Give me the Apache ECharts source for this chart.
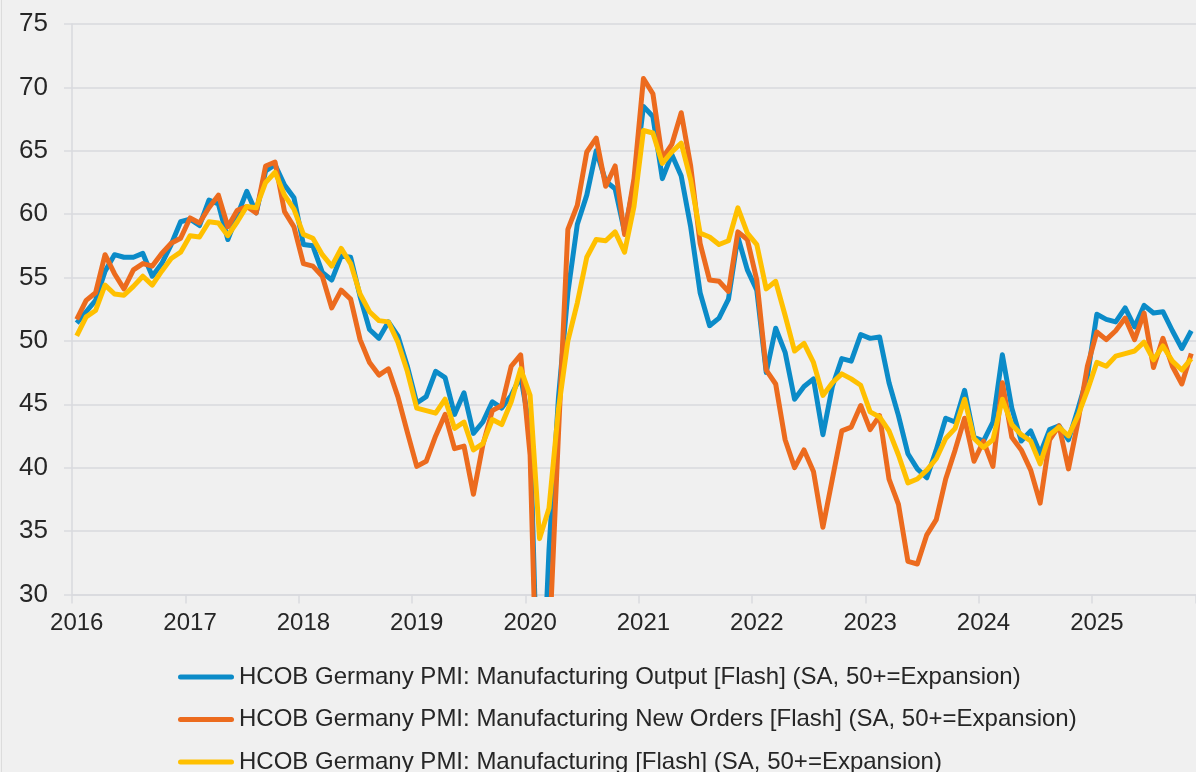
<!DOCTYPE html>
<html>
<head>
<meta charset="utf-8">
<script src="https://cdn.jsdelivr.net/npm/echarts@6/dist/echarts.min.js"></script>
<style>
html,body{margin:0;padding:0;background:#f0f0f0;}
#c{width:1196px;height:772px;}
</style>
</head>
<body>
<div id="c"></div>
<script>
// Monthly flash readings, Mar 2016 .. Jan 2026
const startYear = 2016;
const startMonth = 3;

const seriesNames = [
  'HCOB Germany PMI: Manufacturing Output [Flash] (SA, 50+=Expansion)',
  'HCOB Germany PMI: Manufacturing New Orders [Flash] (SA, 50+=Expansion)',
  'HCOB Germany PMI: Manufacturing [Flash] (SA, 50+=Expansion)'
];

const outputIdx = [
  51.4,52.3,53.2,55.5,56.8,56.6,56.6,56.9,55.1,56.1,
  57.6,59.4,59.6,59.1,61.1,60.8,58.0,59.9,61.8,60.1,
  63.4,63.9,62.3,61.3,57.6,57.5,55.4,54.8,56.7,56.6,
  53.5,50.9,50.2,51.5,50.4,48.0,45.1,45.6,47.6,47.1,
  44.2,45.9,42.7,43.6,45.2,44.7,45.7,47.2,43.0,16.5,
  33.5,45.5,53.8,59.2,61.5,65.0,62.6,62.0,58.6,62.4,
  68.5,67.7,62.8,64.7,63.0,59.0,53.8,51.2,51.8,53.3,
  58.2,55.6,54.0,47.5,51.0,49.1,45.4,46.4,47.0,42.6,
  46.4,48.6,48.4,50.5,50.2,50.3,46.7,44.1,41.1,39.9,
  39.2,41.4,43.9,43.6,46.1,42.4,42.1,43.6,48.9,44.7,
  42.1,42.9,41.1,43.0,43.3,42.2,44.6,47.2,52.1,51.7,
  51.5,52.6,51.1,52.8,52.2,52.3,50.8,49.4,50.8
];

const newOrdersIdx = [
  51.7,53.2,53.8,56.8,55.3,54.1,55.6,56.1,55.9,56.9,
  57.7,58.1,59.7,59.3,60.5,61.5,59.0,60.3,60.6,60.1,
  63.8,64.1,60.2,59.0,56.1,55.9,55.1,52.6,54.0,53.3,
  50.1,48.3,47.3,47.8,45.6,42.8,40.1,40.5,42.5,44.2,
  41.5,41.7,37.9,41.8,44.5,44.9,48.0,48.9,41.0,14.0,
  25.5,42.6,58.8,60.7,64.9,66.0,62.2,63.8,58.4,62.8,
  70.7,69.5,64.4,65.5,68.0,63.8,57.7,54.8,54.7,53.9,
  58.6,58.0,54.8,47.7,46.6,42.2,40.0,41.4,39.7,35.3,
  39.1,42.9,43.2,44.9,43.0,44.1,39.1,37.1,32.6,32.4,
  34.7,35.9,39.1,41.4,43.9,40.5,42.1,40.1,46.7,42.4,
  41.4,39.8,37.2,42.2,43.3,39.9,43.6,48.0,50.7,50.1,
  50.8,51.8,50.1,52.2,47.9,50.2,48.0,46.6,49.0
];

const pmiIdx = [
  50.4,51.9,52.4,54.4,53.7,53.6,54.3,55.1,54.4,55.5,
  56.5,57.0,58.3,58.2,59.4,59.3,58.3,59.4,60.6,60.5,
  62.5,63.3,61.5,60.4,58.4,58.1,56.8,55.9,57.3,56.1,
  53.7,52.3,51.6,51.5,49.9,47.6,44.7,44.5,44.3,45.4,
  43.1,43.6,41.4,41.9,43.8,43.4,45.2,47.8,45.7,34.4,
  36.8,44.6,50.0,53.0,56.6,58.0,57.9,58.6,57.0,60.6,
  66.6,66.4,64.0,64.9,65.6,62.7,58.5,58.2,57.6,57.9,
  60.5,58.5,57.6,54.1,54.7,52.0,49.2,49.8,48.3,45.7,
  46.7,47.4,47.0,46.5,44.4,44.0,42.9,41.0,38.8,39.1,
  39.8,40.7,42.3,43.1,45.4,42.3,41.6,42.2,45.4,43.4,
  42.6,42.1,40.3,42.6,43.2,42.5,44.1,46.1,48.3,48.0,
  48.8,49.0,49.2,49.9,48.5,49.6,48.4,47.7,48.6
];

const yMin = 30, yMax = 75, yStep = 5;

// category labels: YYYY-MM
const months = [];
for (let k = 0; k < pmiIdx.length; k++) {
  const m = startMonth - 1 + k;
  months.push((startYear + Math.floor(m / 12)) + '-' + String(m % 12 + 1).padStart(2, '0'));
}

const colors = ['#0b8bc8', '#ec6b1e', '#ffc000'];
const FONT = "'Liberation Sans', Arial, sans-serif";
const gridColor = '#d9dade';

const chart = echarts.init(document.getElementById('c'), null, {renderer: 'canvas'});

const lineIcon = 'path://M2.5,0 L53.5,0 A2.5,2.5 0 0 1 53.5,5 L2.5,5 A2.5,2.5 0 0 1 2.5,0 Z';

function mkSeries(name, data, color) {
  return {
    name: name,
    type: 'line',
    data: data,
    symbol: 'none',
    showSymbol: false,
    smooth: false,
    clip: true,
    lineStyle: {color: color, width: 5, join: 'round', cap: 'butt'},
    itemStyle: {color: color},
    emphasis: {disabled: true}
  };
}

chart.setOption({
  animation: false,
  backgroundColor: '#f0f0f0',
  color: colors,
  textStyle: {fontFamily: FONT},
  grid: {left: 72, right: -9.5, top: 24, bottom: 177.6, containLabel: false},
  graphic: [{
    type: 'line',
    shape: {x1: 1.5, y1: 0, x2: 1.5, y2: 772},
    style: {stroke: '#dcdcdc', lineWidth: 1},
    silent: true
  }],
  legend: {
    orient: 'vertical',
    left: 178,
    top: 665,
    height: 140,
    padding: 0,
    itemWidth: 56,
    itemHeight: 5,
    itemGap: 18.5,
    icon: lineIcon,
    selectedMode: false,
    textStyle: {fontFamily: FONT, fontSize: 24, color: '#262626', lineHeight: 24},
    data: seriesNames
  },
  xAxis: {
    type: 'category',
    data: months,
    boundaryGap: true,
    axisLine: {show: true, lineStyle: {color: gridColor, width: 1.5}},
    axisTick: {show: true, interval: 11, length: 9, lineStyle: {color: gridColor, width: 1.5}},
    axisLabel: {
      interval: 11,
      margin: 17,
      fontFamily: FONT,
      fontSize: 24,
      color: '#262626',
      formatter: function (v) { return v.slice(0, 4); }
    },
    splitLine: {show: false}
  },
  yAxis: {
    type: 'value',
    min: yMin,
    max: yMax,
    interval: yStep,
    axisLine: {show: true, lineStyle: {color: gridColor, width: 1.5}},
    axisTick: {show: true, length: 8, lineStyle: {color: gridColor, width: 1.5}},
    axisLabel: {margin: 24, fontFamily: FONT, fontSize: 26, color: '#262626'},
    splitLine: {show: true, lineStyle: {color: gridColor, width: 1.5}}
  },
  series: [
    mkSeries(seriesNames[0], outputIdx, colors[0]),
    mkSeries(seriesNames[1], newOrdersIdx, colors[1]),
    mkSeries(seriesNames[2], pmiIdx, colors[2])
  ]
});
</script>
</body>
</html>
